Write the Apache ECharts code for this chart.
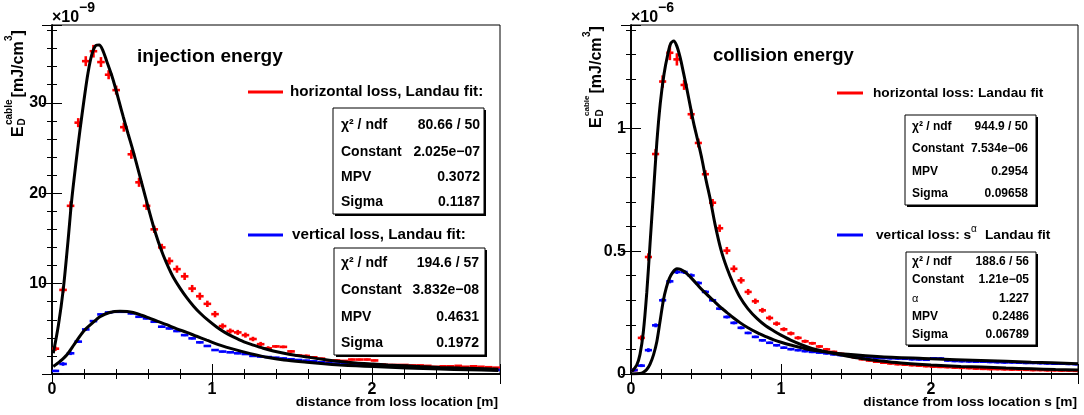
<!DOCTYPE html>
<html>
<head>
<meta charset="utf-8">
<script src="https://cdn.jsdelivr.net/npm/echarts@6/dist/echarts.min.js"></script>
<style>
html,body{margin:0;padding:0;background:#fff;}
#c{width:1084px;height:415px;}
</style>
</head>
<body>
<div id="c"></div>
<script>
// ---------- data ----------
const binWidth = 0.0475;
const binCenters = [0.021,0.069,0.116,0.164,0.211,0.259,0.306,0.354,0.401,0.449,0.496,0.544,0.591,0.639,0.686,0.734,0.781,0.829,0.876,0.924,0.971,1.019,1.066,1.114,1.161,1.209,1.256,1.304,1.351,1.399,1.446,1.494,1.541,1.589,1.636,1.684,1.731,1.779,1.826,1.874,1.921,1.969,2.016,2.064,2.111,2.159,2.206,2.254,2.301,2.349,2.396,2.444,2.491,2.539,2.586,2.634,2.681,2.729,2.776,2.824,2.871,2.919,2.966];

// injection energy (units of 1e-9 mJ/cm^3)
const injHoriz = [2.8,9.3,18.6,27.8,34.6,35.7,34.5,33.1,31.4,27.3,24.3,21.2,18.6,16.0,14.0,12.5,11.6,10.8,9.45,8.6,7.76,6.62,5.3,4.75,4.6,4.3,3.87,3.3,2.85,3.05,3.0,2.5,2.05,2.0,1.85,1.7,1.5,1.5,1.45,1.6,1.6,1.6,1.5,1.05,1.0,1.0,1.0,0.95,0.95,0.9,0.8,0.85,0.85,0.9,0.8,0.85,0.8,0.75,0.7];
const injHorizErr = [0.25,0.35,0.5,0.5,0.55,0.7,0.55,0.5,0.5,0.5,0.5,0.5,0.45,0.4,0.4,0.4,0.4,0.4,0.4,0.4,0.35,0.35,0.3,0.28,0.28,0.28,0.25,0.25,0.22,0.15,0.15,0.15,0.15,0.15,0.12,0.12,0.12,0.12,0.1,0.1,0.1,0.1,0.1,0.08,0.08,0.08,0.08,0.08,0.08,0.08,0.08,0.08,0.08,0.08,0.08,0.08,0.08,0.08,0.08];
const injVert = [0.34,1.11,2.29,3.58,4.93,5.85,6.59,6.81,6.88,6.88,6.70,6.33,6.15,5.78,5.23,5.04,4.75,4.3,3.94,3.5,3.1,2.65,2.48,2.4,2.29,2.21,2.0,1.93,1.87,1.8,1.72,1.63,1.55,1.48,1.4,1.3,1.2,1.15,1.1,1.05,1.0,0.97,0.93,0.9,0.87,0.83,0.78,0.73,0.68,0.64,0.62,0.6,0.58,0.56,0.54,0.52,0.5,0.47,0.45];
const injVertErr = [0.12,0.2,0.2,0.15,0.15,0.12,0.12,0.12,0.12,0.12,0.12,0.12,0.12,0.12,0.12,0.12,0.12,0.12,0.12,0.12,0.1,0.1,0.1,0.1,0.1,0.1,0.1,0.1,0.1,0.1,0.1,0.1,0.1,0.1,0.1,0.1,0.1,0.1,0.1,0.1,0.1,0.1,0.1,0.1,0.1,0.1,0.1,0.1,0.1,0.1,0.1,0.1,0.1,0.1,0.1,0.1,0.1,0.1,0.1];
const injHorizFitX = [0.008,0.04,0.071,0.1,0.123,0.15,0.175,0.2,0.225,0.25,0.275,0.295,0.315,0.342,0.37,0.394,0.42,0.446,0.475,0.508,0.54,0.57,0.6,0.633,0.665,0.696,0.73,0.758,0.8,0.842,0.885,0.925,0.975,1.029,1.08,1.133,1.2,1.258,1.32,1.383,1.45,1.52,1.592,1.7,1.8,1.9,2.008,2.1,2.217,2.3,2.425,2.55,2.65,2.79];
const injHorizFitY = [2.3,5.4,9.45,14.7,19.2,23.4,27.0,30.3,33.3,35.4,36.35,36.4,35.9,34.6,33.2,31.8,30.1,28.4,26.6,24.6,22.5,20.5,18.5,16.4,14.6,13.1,11.7,10.7,9.5,8.45,7.5,6.75,5.95,5.2,4.6,4.1,3.55,3.2,2.85,2.55,2.3,2.08,1.88,1.6,1.38,1.22,1.1,1.0,0.9,0.83,0.73,0.65,0.6,0.53];
const injVertFitX = [0.008,0.05,0.092,0.14,0.196,0.25,0.3,0.36,0.425,0.47,0.508,0.56,0.6125,0.665,0.717,0.78,0.842,0.9,0.967,1.05,1.133,1.24,1.342,1.45,1.592,1.7,1.8,1.9,2.008,2.217,2.425,2.6,2.79];
const injVertFitY = [0.83,1.4,2.1,3.3,4.7,5.6,6.33,6.8,6.95,6.92,6.8,6.5,6.15,5.8,5.45,5.0,4.6,4.2,3.75,3.2,2.75,2.25,1.85,1.55,1.3,1.13,1.0,0.9,0.82,0.66,0.54,0.46,0.39];

// collision energy (units of 1e-6 mJ/cm^3)
const colHoriz = [0.016,0.147,0.476,0.895,1.19,1.307,1.28,1.176,1.057,0.94,0.813,0.697,0.593,0.502,0.428,0.381,0.334,0.296,0.259,0.228,0.205,0.182,0.165,0.147,0.133,0.125,0.112,0.1,0.09,0.082,0.075,0.068,0.06,0.055,0.05,0.046,0.043,0.04,0.038,0.036,0.034,0.032,0.03,0.029,0.028,0.026,0.025,0.024,0.022,0.021,0.02,0.02,0.019,0.018,0.018,0.017,0.016,0.016,0.015,0.015,0.014,0.014,0.013];
const colHorizErr = [0.006,0.01,0.015,0.02,0.025,0.03,0.025,0.02,0.02,0.018,0.016,0.015,0.015,0.015,0.014,0.013,0.012,0.011,0.01,0.01,0.009,0.008,0.008,0.007,0.007,0.006,0.006,0.006,0.005,0.005,0.005,0.005,0.005,0.005,0.005,0.005,0.005,0.005,0.005,0.005,0.005,0.005,0.005,0.005,0.005,0.005,0.005,0.005,0.005,0.005,0.005,0.005,0.005,0.005,0.005,0.005,0.005,0.005,0.005,0.005,0.005,0.005,0.005];
const colVert = [0.016,0.034,0.097,0.198,0.30,0.377,0.415,0.415,0.401,0.37,0.334,0.30,0.266,0.232,0.208,0.188,0.167,0.151,0.137,0.127,0.117,0.107,0.101,0.097,0.093,0.09,0.087,0.084,0.08,0.077,0.075,0.072,0.07,0.068,0.066,0.065,0.064,0.063,0.062,0.06,0.059,0.058,0.064,0.063,0.055,0.053,0.052,0.051,0.05,0.05,0.049,0.048,0.047,0.047,0.046,0.045,0.045,0.044,0.043,0.042,0.042,0.041,0.04];
const colVertErr = [0.006,0.006,0.008,0.008,0.008,0.008,0.008,0.008,0.008,0.007,0.007,0.006,0.006,0.006,0.006,0.006,0.005,0.005,0.005,0.005,0.005,0.005,0.005,0.005,0.005,0.005,0.005,0.005,0.005,0.005,0.005,0.005,0.005,0.005,0.005,0.005,0.005,0.005,0.005,0.005,0.005,0.005,0.005,0.005,0.005,0.005,0.005,0.005,0.005,0.005,0.005,0.005,0.005,0.005,0.005,0.005,0.005,0.005,0.005,0.005,0.005,0.005,0.005];
const colHorizFitX = [0.005,0.038,0.06,0.082,0.105,0.127,0.15,0.172,0.195,0.22,0.245,0.265,0.285,0.305,0.328,0.35,0.373,0.395,0.417,0.445,0.473,0.5,0.528,0.56,0.6,0.64,0.68,0.729,0.78,0.841,0.9,0.952,1.0,1.064,1.186,1.3,1.445,1.55,1.666,1.8,2.0,2.2,2.334,2.5,2.669,2.83,2.98];
const colHorizFitY = [0.01,0.036,0.08,0.17,0.33,0.53,0.74,0.94,1.1,1.22,1.3,1.345,1.355,1.335,1.287,1.225,1.158,1.09,1.023,0.95,0.874,0.79,0.712,0.61,0.505,0.43,0.37,0.31,0.265,0.225,0.195,0.175,0.158,0.138,0.108,0.09,0.072,0.062,0.053,0.045,0.037,0.031,0.028,0.024,0.021,0.018,0.016];
const colVertFitX = [0,0.06,0.08,0.105,0.127,0.15,0.172,0.195,0.216,0.235,0.255,0.28,0.306,0.33,0.36,0.395,0.43,0.462,0.5,0.551,0.6,0.64,0.68,0.729,0.78,0.841,0.9,0.952,1.0,1.064,1.186,1.3,1.445,1.666,2.0,2.334,2.669,2.98];
const colVertFitY = [0,0.002,0.006,0.018,0.04,0.078,0.131,0.22,0.3,0.35,0.388,0.415,0.428,0.426,0.415,0.395,0.372,0.35,0.327,0.298,0.27,0.25,0.23,0.208,0.188,0.168,0.152,0.139,0.129,0.118,0.1,0.09,0.08,0.07,0.062,0.055,0.048,0.042];

const statsInj1 = [["χ² / ndf","80.66 / 50"],["Constant","2.025e−07"],["MPV","0.3072"],["Sigma","0.1187"]];
const statsInj2 = [["χ² / ndf","194.6 / 57"],["Constant","3.832e−08"],["MPV","0.4631"],["Sigma","0.1972"]];
const statsCol1 = [["χ² / ndf","944.9 / 50"],["Constant","7.534e−06"],["MPV","0.2954"],["Sigma","0.09658"]];
const statsCol2 = [["χ² / ndf","188.6 / 56"],["Constant","1.21e−05"],["α","1.227"],["MPV","0.2486"],["Sigma","0.06789"]];

// ---------- helpers ----------
const FONT = '"Liberation Sans", Arial, Helvetica, sans-serif';
function pts(xs, ys){ return xs.map((x,i)=>[x, ys[i]]); }
function errData(vals, errs){ return vals.map((v,i)=>[binCenters[i], v, errs[i]]); }

function crossSeries(axisIdx, vals, errs, color){
  return {
    type:'custom', xAxisIndex: axisIdx, yAxisIndex: axisIdx, clip:true, z:3,
    data: errData(vals, errs),
    encode:{x:0, y:1},
    renderItem: function(params, api){
      const x = api.value(0), y = api.value(1), e = api.value(2);
      const c = api.coord([x, y]);
      const t = api.coord([x, y + e]);
      const b = api.coord([x, y - e]);
      const hw = api.size([binWidth, 0])[0] / 2;
      return {type:'group', children:[
        {type:'line', shape:{x1:c[0]-hw, y1:c[1], x2:c[0]+hw, y2:c[1]}, style:{stroke:color, lineWidth:2.6}},
        {type:'line', shape:{x1:c[0], y1:t[1], x2:c[0], y2:b[1]}, style:{stroke:color, lineWidth:2.6}}
      ]};
    }
  };
}
function fitSeries(axisIdx, xs, ys){
  return {type:'line', xAxisIndex: axisIdx, yAxisIndex: axisIdx, data: pts(xs, ys), smooth:0.3,
    showSymbol:false, symbol:'none', z:5, clip:true,
    lineStyle:{color:'#000', width:3}};
}
function T(x, y, s, size, o){
  o = o || {};
  return {type:'text', x:x, y:y, rotation:o.rot||0, z:100,
    style:{text:s, fill:'#000', font:(o.w||'bold')+' '+size+'px '+FONT,
      align:o.align||'left', textAlign:o.align||'left',
      verticalAlign:o.va||'middle', textVerticalAlign:o.va||'middle'}};
}
function statBox(x, y, w, h, rows, rowYs, labelX, valueX, size){
  const els = [
    {type:'rect', shape:{x:x+2, y:y+2, width:w, height:h}, style:{fill:'#000'}, z:90},
    {type:'rect', shape:{x:x, y:y, width:w, height:h}, style:{fill:'#fff', stroke:'#000', lineWidth:1}, z:91}
  ];
  rows.forEach((r,i)=>{
    const isAlpha = r[0] === 'α';
    els.push(T(labelX, rowYs[i], r[0], isAlpha ? size-1 : size, {w: isAlpha ? 'normal' : 'bold'}));
    els.push(T(valueX, rowYs[i], r[1], size, {align:'right'}));
  });
  return els;
}
function legendKey(x1, x2, y, color){
  return {type:'line', shape:{x1:x1, y1:y, x2:x2, y2:y}, style:{stroke:color, lineWidth:3}, z:100};
}
function yTitle(dx, eBottom, supSize){
  const R = Math.PI/2;
  return [
    T(dx+19, eBottom, 'E', 16, {rot:R}),
    T(dx+22, eBottom-11.5, 'D', 10, {rot:R}),
    T(dx+9, eBottom-12, 'cable', supSize, {rot:R}),
    T(dx+19, eBottom-12-supSize*2.56-2, '[mJ/cm', 16, {rot:R}),
    T(dx+9, eBottom-12-supSize*2.56-2-56.5, '3', 10, {rot:R}),
    T(dx+19, eBottom-12-supSize*2.56-2-62, ']', 16, {rot:R})
  ];
}

// ---------- axes ----------
const tickCommon = {inside:true, length:10, lineStyle:{color:'#000', width:1}};
const minorCommon = {show:true, splitNumber:5, length:5, lineStyle:{color:'#000', width:1}};
const lineCommon = {show:true, lineStyle:{color:'#000', width:1.5}};
const labelFont = {color:'#000', fontSize:16, fontWeight:'bold', fontFamily:FONT};

function xAxes(grid, max){
  return [
    {type:'value', gridIndex:grid, min:0, max:max, interval:1, position:'bottom',
      axisLine:lineCommon, axisTick:tickCommon, minorTick:minorCommon, splitLine:{show:false},
      axisLabel:Object.assign({margin:8, showMaxLabel:false, formatter:v=>Number.isInteger(v)?String(v):''}, labelFont)},
    {type:'value', gridIndex:grid, min:0, max:max, interval:1, position:'top',
      axisLine:lineCommon, axisTick:tickCommon, minorTick:minorCommon, splitLine:{show:false},
      axisLabel:{show:false}}
  ];
}
function yAxes(grid, max, interval, fmt){
  return [
    {type:'value', gridIndex:grid, min:0, max:max, interval:interval, position:'left',
      axisLine:lineCommon, axisTick:tickCommon, minorTick:minorCommon, splitLine:{show:false},
      axisLabel:Object.assign({margin:5, showMaxLabel:false, formatter:fmt}, labelFont)},
    {type:'value', gridIndex:grid, min:0, max:max, interval:interval, position:'right',
      axisLine:lineCommon, axisTick:tickCommon, minorTick:minorCommon, splitLine:{show:false},
      axisLabel:{show:false}}
  ];
}

const graphics = [].concat(
  // left chart texts
  [T(52, 18, '×10', 16), T(79, 8, '−9', 14),
   T(137, 57, 'injection energy', 19),
   legendKey(248, 283, 92, '#ff0000'), T(290, 92, 'horizontal loss, Landau fit:', 15.2),
   legendKey(248, 283, 235, '#0000ff'), T(292, 235, 'vertical loss, Landau fit:', 15.2),
   T(498, 402, 'distance from loss location [m]', 13.7, {align:'right'})],
  statBox(333, 108, 151, 106, statsInj1, [125, 152, 177, 202], 341, 480, 14),
  statBox(334, 248, 151, 107, statsInj2, [263, 290, 317, 343], 341, 479, 14),
  yTitle(0, 137, 10),
  // right chart texts
  [T(631, 18, '×10', 16), T(658, 8, '−6', 14),
   T(713, 56, 'collision energy', 18.5),
   legendKey(837, 863, 93, '#ff0000'), T(873, 93, 'horizontal loss: Landau fit', 13.7),
   legendKey(837, 863, 235, '#0000ff'), T(876, 235, 'vertical loss: s', 13.7),
   T(971, 229, 'α', 10, {w:'normal'}), T(985, 235, 'Landau fit', 13.7),
   T(1077, 402, 'distance from loss location s [m]', 13.7, {align:'right'})],
  statBox(905, 115, 131, 90, statsCol1, [127, 149, 172, 194], 912, 1028, 12),
  statBox(906, 252, 130, 93, statsCol2, [262, 280, 299, 317, 335], 912, 1029, 12),
  yTitle(578, 128, 8)
);

const option = {
  animation:false,
  backgroundColor:'#fff',
  textStyle:{fontFamily:FONT},
  grid:[
    {left:52, top:25, width:448, height:349, show:true, borderColor:'#000', borderWidth:1, containLabel:false},
    {left:631, top:25, width:447, height:349, show:true, borderColor:'#000', borderWidth:1, containLabel:false}
  ],
  xAxis:[].concat(xAxes(0, 2.8), xAxes(1, 2.98)),
  yAxis:[].concat(
    yAxes(0, 38.6, 10, v => (v > 0 && Math.abs(v % 10) < 1e-9) ? String(v) : ''),
    yAxes(1, 1.42, 0.5, v => (Math.abs(v*2 - Math.round(v*2)) < 1e-9) ? String(v) : '')
  ),
  series:[
    crossSeries(0, injHoriz, injHorizErr, '#ff0000'),
    crossSeries(0, injVert, injVertErr, '#0000ff'),
    fitSeries(0, injHorizFitX, injHorizFitY),
    fitSeries(0, injVertFitX, injVertFitY),
    crossSeries(2, colHoriz, colHorizErr, '#ff0000'),
    crossSeries(2, colVert, colVertErr, '#0000ff'),
    fitSeries(2, colHorizFitX, colHorizFitY),
    fitSeries(2, colVertFitX, colVertFitY)
  ],
  graphic:{elements:graphics}
};

const chart = echarts.init(document.getElementById('c'), null, {renderer:'canvas'});
chart.setOption(option);
</script>
</body>
</html>
